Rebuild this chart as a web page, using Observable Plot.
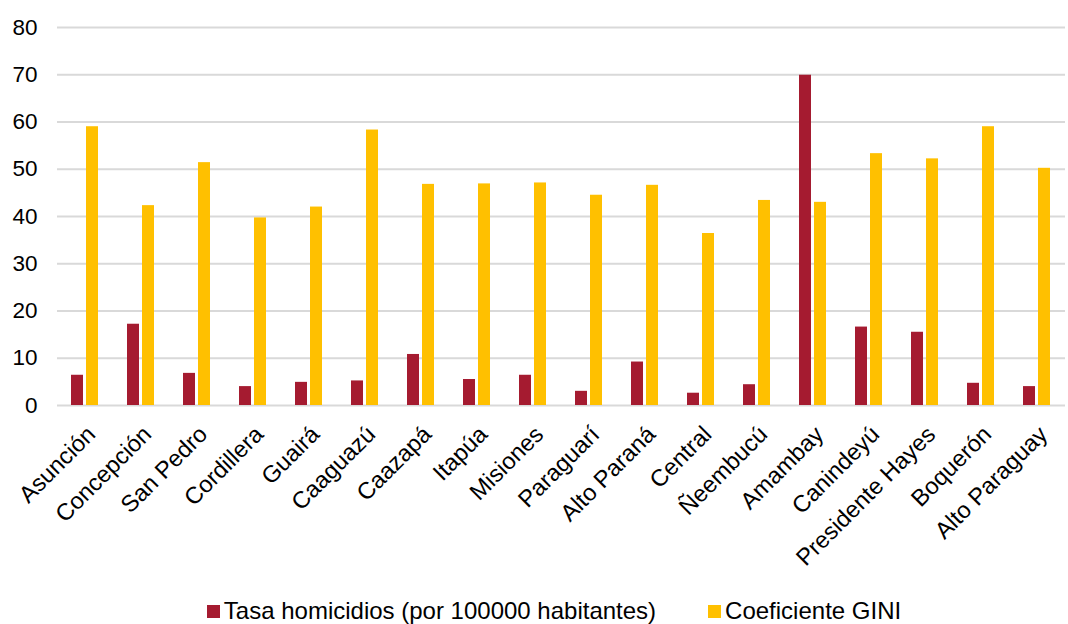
<!DOCTYPE html>
<html>
<head>
<meta charset="utf-8">
<script src="https://cdn.jsdelivr.net/npm/d3@7"></script>
<script src="https://cdn.jsdelivr.net/npm/@observablehq/plot@0.6"></script>
<style>
  html, body { margin: 0; padding: 0; background: #fff; }
  body { width: 1068px; height: 624px; overflow: hidden; font-family: "Liberation Sans", Arial, sans-serif; position: relative; }
  #legend { position: absolute; left: 40px; right: 0; top: 598px; height: 26px; display: flex; justify-content: center; align-items: center; gap: 52px; font-size: 24px; color: #000; white-space: nowrap; }
  #legend .item { display: flex; align-items: center; }
  #legend .sw { width: 13px; height: 13px; margin-right: 4px; display: inline-block; }
</style>
</head>
<body>
<div id="chart"></div>
<div id="legend"></div>
<script>
const categories = ["Asunción","Concepción","San Pedro","Cordillera","Guairá","Caaguazú","Caazapá","Itapúa","Misiones","Paraguarí","Alto Paraná","Central","Ñeembucú","Amambay","Canindeyú","Presidente Hayes","Boquerón","Alto Paraguay"];
const seriesNames = ["Tasa homicidios (por 100000 habitantes)", "Coeficiente GINI"];
const homicidios = [6.4, 17.2, 6.8, 4.0, 4.9, 5.2, 10.8, 5.5, 6.4, 3.0, 9.2, 2.6, 4.4, 69.9, 16.6, 15.5, 4.7, 4.0];
const gini = [59.0, 42.3, 51.4, 39.7, 42.0, 58.3, 46.8, 46.9, 47.1, 44.5, 46.6, 36.4, 43.4, 43.0, 53.3, 52.2, 59.0, 50.2];
const yTicks = [0, 10, 20, 30, 40, 50, 60, 70, 80];
const colors = ["#A51B30", "#FFC000"];

const data = [];
categories.forEach((c, i) => {
  data.push({cat: c, series: seriesNames[0], value: homicidios[i]});
  data.push({cat: c, series: seriesNames[1], value: gini[i]});
});

const chart = Plot.plot({
  width: 1068,
  height: 580,
  marginTop: 27,
  marginBottom: 175,
  marginLeft: 57,
  marginRight: 3,
  style: {fontFamily: "Liberation Sans, Arial, sans-serif", fontSize: "22px", color: "#000", background: "#fff", overflow: "visible"},
  fx: {domain: categories, padding: 0, label: null},
  x: {domain: seriesNames, axis: null, paddingInner: 0.194, paddingOuter: 0.9},
  y: {domain: [0, 80], ticks: yTicks, label: null},
  color: {domain: seriesNames, range: colors},
  marks: [
    Plot.ruleY(yTicks, {stroke: "#d9d9d9", strokeWidth: 2}),
    Plot.barY(data, {fx: "cat", x: "series", y: "value", fill: "series"}),
    Plot.axisFx({anchor: "bottom", tickRotate: -45, tickSize: 0, tickPadding: 25, fontSize: 23.5, label: null, dx: 6}),
    Plot.axisY({ticks: yTicks, tickSize: 0, tickPadding: 20, fontSize: 22.5, label: null})
  ]
});
document.getElementById("chart").appendChild(chart);

const legend = document.getElementById("legend");
seriesNames.forEach((s, i) => {
  const it = document.createElement("div");
  it.className = "item";
  const sw = document.createElement("span");
  sw.className = "sw";
  sw.style.background = colors[i];
  it.appendChild(sw);
  it.appendChild(document.createTextNode(s));
  legend.appendChild(it);
});
</script>
</body>
</html>
